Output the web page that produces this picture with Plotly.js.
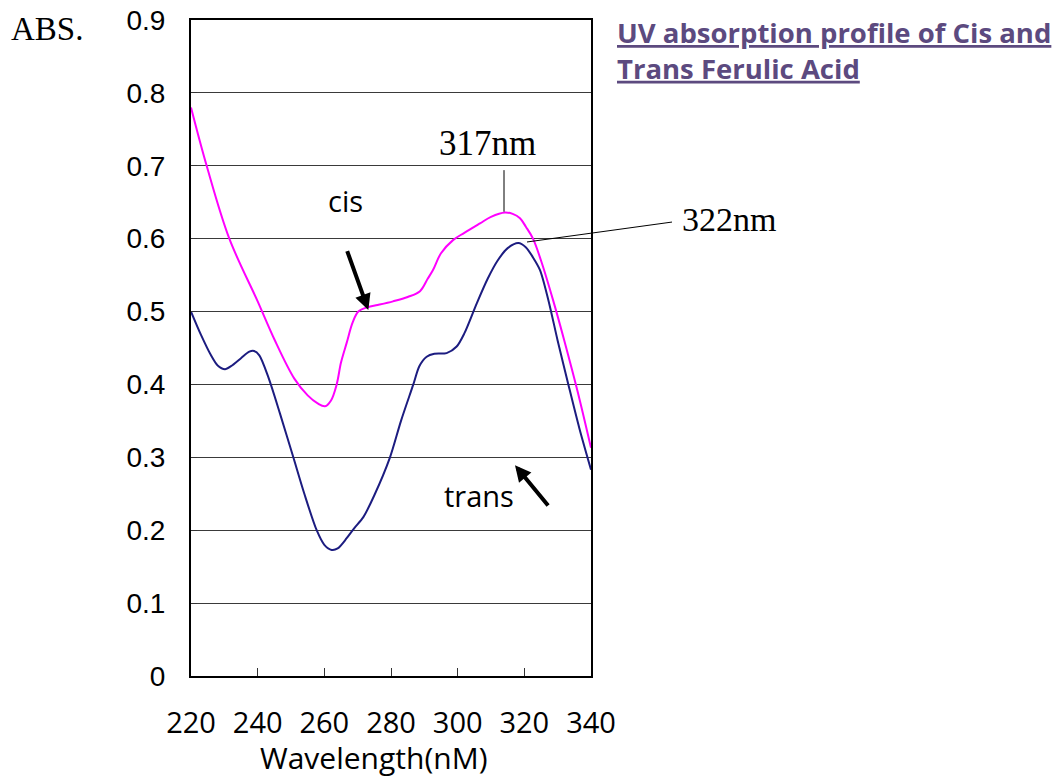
<!DOCTYPE html>
<html>
<head>
<meta charset="utf-8">
<script src="https://cdn.plot.ly/plotly-3.0.1.min.js"></script>
<style>
  html, body { margin: 0; padding: 0; background: #ffffff; }
  #chart { width: 1054px; height: 778px; }
</style>
</head>
<body>
<div id="chart"></div>
<script>
// Wavelength (nm) and absorbance
const cisWavelength = [220, 224.7, 231.5, 240, 245, 251, 255, 258, 260.2, 262, 263.7, 265, 266.7, 268.5, 270.2, 273, 276, 280.6, 285, 288.7, 291, 292.6, 295, 298.6, 302, 306.7, 310, 314.2, 316.5, 318.7, 320.5, 322.6, 325, 328.6, 332, 336, 340];
const cisAbs        = [0.780, 0.700, 0.600, 0.514, 0.462, 0.408, 0.385, 0.374, 0.370, 0.378, 0.400, 0.430, 0.457, 0.485, 0.500, 0.506, 0.509, 0.514, 0.520, 0.528, 0.545, 0.557, 0.580, 0.598, 0.608, 0.621, 0.630, 0.636, 0.634, 0.628, 0.616, 0.600, 0.570, 0.516, 0.460, 0.390, 0.313];

const transWavelength = [220, 223, 226, 228, 230.2, 232, 235, 237.5, 238.9, 240.5, 243.2, 246.7, 250.7, 254, 257.7, 260, 262.2, 264, 266.7, 269, 271.7, 275, 279.7, 283, 286.7, 288.5, 290.7, 293, 296.7, 299.7, 302, 305.7, 309, 312, 315, 318.2, 320.5, 322.5, 324.7, 327.2, 330, 333.2, 336.5, 340];
const transAbs        = [0.500, 0.468, 0.440, 0.426, 0.421, 0.425, 0.436, 0.445, 0.446, 0.440, 0.410, 0.360, 0.300, 0.250, 0.200, 0.180, 0.173, 0.175, 0.189, 0.203, 0.218, 0.248, 0.300, 0.350, 0.400, 0.425, 0.438, 0.442, 0.443, 0.452, 0.470, 0.511, 0.545, 0.570, 0.587, 0.594, 0.588, 0.575, 0.557, 0.516, 0.460, 0.400, 0.340, 0.283];

const xTickVals   = [220, 240, 260, 280, 300, 320, 340];
const xTickLabels = ['220', '240', '260', '280', '300', '320', '340'];
const yTickVals   = [0, 0.1, 0.2, 0.3, 0.4, 0.5, 0.6, 0.7, 0.8, 0.9];
const yTickLabels = ['0', '0.1', '0.2', '0.3', '0.4', '0.5', '0.6', '0.7', '0.8', '0.9'];

const titleLine1 = 'UV absorption profile of Cis and';
const titleLine2 = 'Trans Ferulic Acid';

const traces = [
  {
    x: cisWavelength, y: cisAbs, name: 'cis', type: 'scatter', mode: 'lines',
    line: { color: '#ff00ff', width: 2, shape: 'spline', smoothing: 1 },
    hoverinfo: 'skip'
  },
  {
    x: transWavelength, y: transAbs, name: 'trans', type: 'scatter', mode: 'lines',
    line: { color: '#1c1c80', width: 2, shape: 'spline', smoothing: 0.8 },
    hoverinfo: 'skip'
  }
];

const serif = 'Liberation Serif, Times New Roman, serif';
const sans = 'Open Sans, Noto Sans, sans-serif';
const titleFont = { family: 'Open Sans, Noto Sans, sans-serif', size: 27.5, color: '#5c4a7f', weight: 'bold' };

const layout = {
  width: 1054, height: 778,
  margin: { l: 191, r: 463, t: 20, b: 102, pad: 0 },
  paper_bgcolor: '#ffffff', plot_bgcolor: '#ffffff',
  showlegend: false,
  title: {
    text: '<u>' + titleLine1 + '</u><br><u>' + titleLine2 + '</u>',
    font: titleFont,
    xref: 'container', yref: 'container',
    x: 617 / 1054, xanchor: 'left',
    y: 1 - 43 / 778, yanchor: 'top'
  },
  xaxis: {
    range: [220, 340],
    tickvals: xTickVals, ticktext: xTickLabels,
    ticks: 'inside', ticklen: 8, tickwidth: 1, tickcolor: '#333333',
    showline: true, linecolor: '#000000', linewidth: 2, mirror: true,
    showgrid: false, zeroline: false,
    tickfont: { family: sans, size: 29, color: '#000000' },
    ticklabelstandoff: 20,
    fixedrange: true
  },
  yaxis: {
    range: [0, 0.9],
    tickvals: yTickVals, ticktext: yTickLabels,
    ticks: 'inside', ticklen: 6, tickwidth: 1, tickcolor: '#333333',
    showline: true, linecolor: '#000000', linewidth: 2, mirror: true,
    showgrid: true, gridcolor: '#3a3a3a', gridwidth: 1,
    zeroline: false,
    tickfont: { family: 'Liberation Sans, Arial, sans-serif', size: 28, color: '#000000' },
    ticklabelstandoff: 18,
    fixedrange: true
  },
  shapes: [
    { type: 'line', xref: 'x', yref: 'y', x0: 313.9, x1: 313.9, y0: 0.694, y1: 0.637,
      line: { color: '#000000', width: 1 } },
    { type: 'line', xref: 'paper', yref: 'paper', x0: 0.84, y0: 0.6616, x1: 1.2025, y1: 0.692,
      line: { color: '#000000', width: 1 } }
  ],
  annotations: [
    { text: 'ABS.', xref: 'paper', yref: 'paper', x: -0.36, y: 0.986, xanchor: 'center', yanchor: 'middle',
      showarrow: false, font: { family: serif, size: 33, color: '#000000' } },
    { text: '317nm', xref: 'x', yref: 'y', x: 308.8, y: 0.731, xanchor: 'center', yanchor: 'middle',
      showarrow: false, font: { family: serif, size: 35, color: '#000000' } },
    { text: '322nm', xref: 'paper', yref: 'paper', x: (680 - 191) / 400, y: (676 - 219) / 656, xanchor: 'left', yanchor: 'middle',
      showarrow: false, font: { family: serif, size: 34, color: '#000000' } },
    { text: 'cis', xref: 'x', yref: 'y', x: 266.2, y: 0.653, xanchor: 'center', yanchor: 'middle',
      showarrow: false, font: { family: sans, size: 29, color: '#000000' } },
    { text: 'trans', xref: 'x', yref: 'y', x: 306.4, y: 0.248, xanchor: 'center', yanchor: 'middle',
      showarrow: false, font: { family: sans, size: 29, color: '#000000' } },
    { text: 'Wavelength(nM)', xref: 'paper', yref: 'paper', x: 0.455, y: (676 - 757) / 656, xanchor: 'center', yanchor: 'middle',
      showarrow: false, font: { family: sans, size: 30, color: '#000000' } },
    { text: '', xref: 'x', yref: 'y', x: 273.2, y: 0.502, axref: 'x', ayref: 'y', ax: 266.7, ay: 0.585,
      showarrow: true, arrowhead: 2, arrowsize: 0.8, arrowwidth: 4, arrowcolor: '#000000', standoff: 0, startstandoff: 0 },
    { text: '', xref: 'x', yref: 'y', x: 317.2, y: 0.289, axref: 'x', ayref: 'y', ax: 327.5, ay: 0.232,
      showarrow: true, arrowhead: 2, arrowsize: 0.8, arrowwidth: 4, arrowcolor: '#000000', standoff: 0, startstandoff: 0 }
  ]
};

Plotly.newPlot('chart', traces, layout, { displayModeBar: false, staticPlot: true });
</script>
</body>
</html>
